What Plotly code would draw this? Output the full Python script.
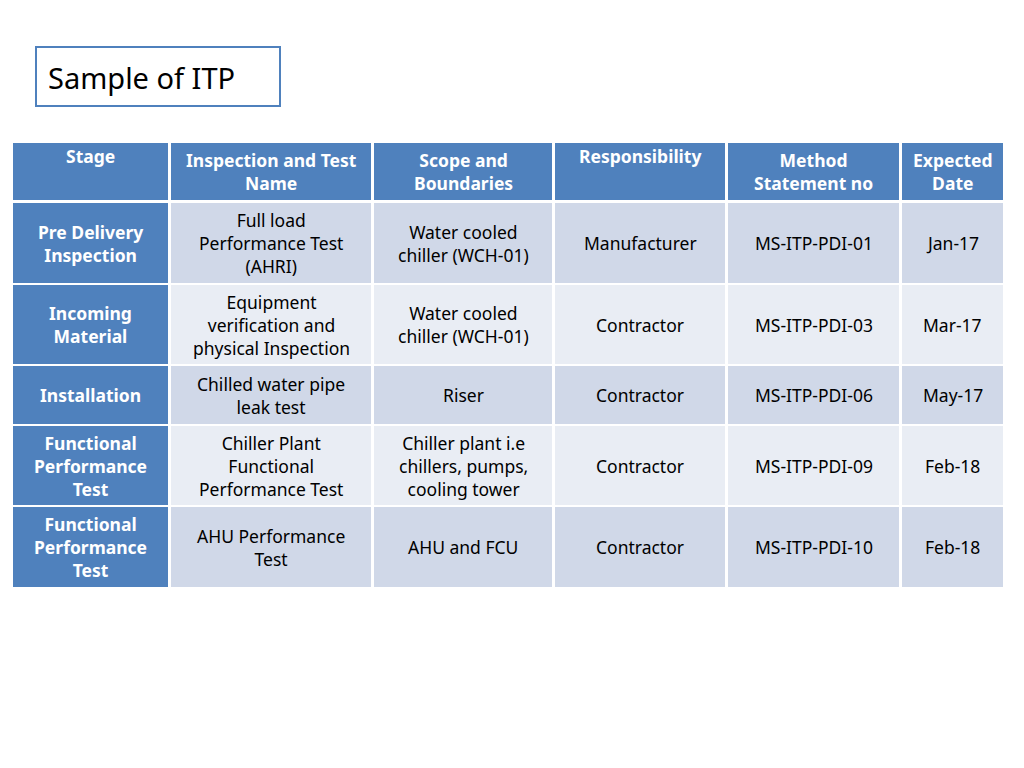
import plotly.graph_objects as go

headers = ["Stage", "Inspection and Test<br>Name", "Scope and<br>Boundaries",
           "Responsibility", "Method<br>Statement no", "Expected<br>Date"]
stages = ["Pre Delivery<br>Inspection", "Incoming<br>Material", "Installation",
          "Functional<br>Performance<br>Test", "Functional<br>Performance<br>Test"]
tests = ["Full load<br>Performance Test<br>(AHRI)", "Equipment<br>verification and<br>physical Inspection",
         "Chilled water pipe<br>leak test", "Chiller Plant<br>Functional<br>Performance Test",
         "AHU Performance<br>Test"]
scopes = ["Water cooled<br>chiller (WCH-01)", "Water cooled<br>chiller (WCH-01)", "Riser",
          "Chiller plant i.e<br>chillers, pumps,<br>cooling tower", "AHU and FCU"]
resp = ["Manufacturer", "Contractor", "Contractor", "Contractor", "Contractor"]
methods = ["MS-ITP-PDI-01", "MS-ITP-PDI-03", "MS-ITP-PDI-06", "MS-ITP-PDI-09", "MS-ITP-PDI-10"]
dates = ["Jan-17", "Mar-17", "May-17", "Feb-18", "Feb-18"]

# layout geometry (pixels)
col_x = [(13, 168), (171, 371), (374, 552), (555, 725), (728, 899), (902, 1003)]
head_y = (143, 200)
row_y = [(203, 283), (285, 364), (366, 424), (426, 505), (507, 587)]
blue = "#4F81BD"
dark, light = "#D0D8E8", "#E9EDF4"
font = "Noto Sans"

fig = go.Figure()
shapes, anns = [], []

def cell(x, y, color):
    shapes.append(dict(type="rect", x0=x[0], x1=x[1], y0=y[0], y1=y[1],
                       fillcolor=color, line=dict(width=0), layer="below"))

def text(x, y, s, color, bold=False, top=False):
    yy = y[0] + 13 if top else (y[0] + y[1]) / 2
    anns.append(dict(x=(x[0] + x[1]) / 2, y=yy, text=f"<b>{s}</b>" if bold else s,
                     showarrow=False, xanchor="center", yanchor="middle",
                     font=dict(family=font, size=17.5, color=color)))

for i, h in enumerate(headers):
    cell(col_x[i], head_y, blue)
    text(col_x[i], head_y, h, "white", bold=True, top="<br>" not in h)

body = [tests, scopes, resp, methods, dates]
for r, ry in enumerate(row_y):
    cell(col_x[0], ry, blue)
    text(col_x[0], ry, stages[r], "white", bold=True)
    for c, col in enumerate(body):
        cell(col_x[c + 1], ry, dark if r % 2 == 0 else light)
        text(col_x[c + 1], ry, col[r], "black")

shapes.append(dict(type="rect", x0=36, x1=280, y0=47, y1=106,
                   line=dict(color=blue, width=2), fillcolor="white"))
anns.append(dict(x=46, y=77, text="Sample of ITP", showarrow=False, xanchor="left",
                 yanchor="middle", font=dict(family=font, size=29, color="black")))

# page renders the figure offset by 8px, compensate in the ranges
fig.update_layout(width=1024, height=768, margin=dict(l=0, r=0, t=0, b=0),
                  plot_bgcolor="white", paper_bgcolor="white",
                  shapes=shapes, annotations=anns, showlegend=False,
                  xaxis=dict(range=[8, 1032], visible=False, fixedrange=True),
                  yaxis=dict(range=[776, 8], visible=False, fixedrange=True))
fig.write_html("out.html")
